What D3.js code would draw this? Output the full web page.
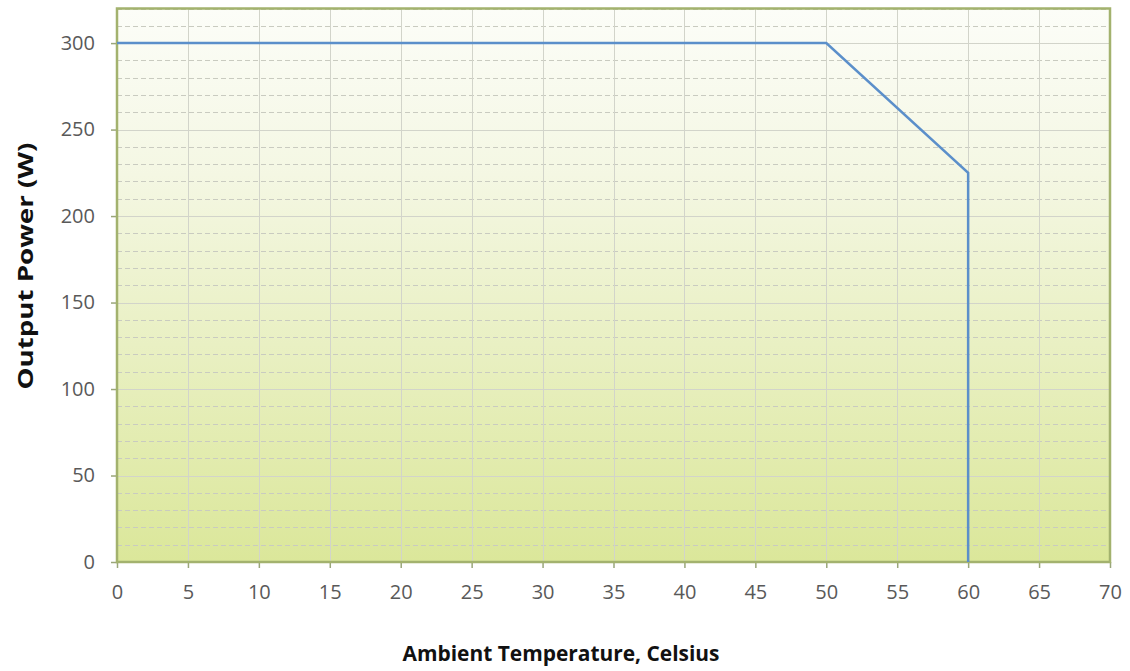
<!DOCTYPE html>
<html>
<head>
<meta charset="utf-8">
<script src="https://cdn.jsdelivr.net/npm/d3@7/dist/d3.min.js"></script>
<style>
  html, body { margin: 0; padding: 0; background: #ffffff; }
  svg { display: block; }
</style>
</head>
<body>
<svg id="chart" width="1130" height="671"></svg>
<script>
// Derating curve: output power vs. ambient temperature
const temperatures = [0, 50, 60, 60];
const powers = [300, 300, 225, 0];
const xTicks = [0, 5, 10, 15, 20, 25, 30, 35, 40, 45, 50, 55, 60, 65, 70];
const yTicks = [0, 50, 100, 150, 200, 250, 300];
const yMinorTicks = d3.range(0, 330, 10).filter(v => v % 50 !== 0);
const xTitle = "Ambient Temperature, Celsius";
const yTitle = "Output Power (W)";

const svg = d3.select("#chart");
const margin = { left: 117, right: 20, top: 8.5, bottom: 109 };
const W = 1130, H = 671;
const x = d3.scaleLinear().domain([0, 70]).range([margin.left, W - margin.right]);
const y = d3.scaleLinear().domain([0, 320]).range([H - margin.bottom, margin.top]);

// Plot background gradient
const defs = svg.append("defs");
const grad = defs.append("linearGradient")
  .attr("id", "bg").attr("x1", 0).attr("y1", 0).attr("x2", 0).attr("y2", 1);
grad.append("stop").attr("offset", "0%").attr("stop-color", "#fcfdf8");
grad.append("stop").attr("offset", "30%").attr("stop-color", "#f4f7e3");
grad.append("stop").attr("offset", "100%").attr("stop-color", "#dbe79a");

svg.append("rect")
  .attr("x", x(0)).attr("y", y(320))
  .attr("width", x(70) - x(0)).attr("height", y(0) - y(320))
  .attr("fill", "url(#bg)");

// Minor dashed horizontal gridlines
svg.append("g").selectAll("line").data(yMinorTicks).join("line")
  .attr("x1", x(0)).attr("x2", x(70))
  .attr("y1", d => Math.round(y(d)) + 0.5).attr("y2", d => Math.round(y(d)) + 0.5)
  .attr("stroke", "#c9cbc0").attr("stroke-width", 1)
  .attr("stroke-dasharray", "5,3");

// Major horizontal gridlines
svg.append("g").selectAll("line").data(yTicks.filter(d => d > 0)).join("line")
  .attr("x1", x(0)).attr("x2", x(70))
  .attr("y1", d => Math.round(y(d)) + 0.5).attr("y2", d => Math.round(y(d)) + 0.5)
  .attr("stroke", "#d2d4ca").attr("stroke-width", 1);

// Vertical gridlines
svg.append("g").selectAll("line").data(xTicks.filter(d => d > 0 && d < 70)).join("line")
  .attr("x1", d => Math.round(x(d)) + 0.5).attr("x2", d => Math.round(x(d)) + 0.5)
  .attr("y1", y(320)).attr("y2", y(0))
  .attr("stroke", "#d2d4ca").attr("stroke-width", 1);

// Axes
const tickFont = "'Open Sans', 'Noto Sans', sans-serif";
const xAxis = svg.append("g")
  .attr("transform", `translate(0,${y(0)})`)
  .call(d3.axisBottom(x).tickValues(xTicks).tickSize(6).tickPadding(17).tickFormat(d3.format("d")));
const yAxis = svg.append("g")
  .attr("transform", `translate(${x(0)},0)`)
  .call(d3.axisLeft(y).tickValues(yTicks).tickSize(6).tickPadding(16).tickFormat(d3.format("d")));
[xAxis, yAxis].forEach(g => {
  g.select(".domain").remove();
  g.selectAll(".tick line").attr("stroke", "#9aa67a").attr("stroke-width", 1.5);
  g.selectAll(".tick text")
    .attr("fill", "#595959")
    .style("font-family", tickFont)
    .style("font-size", "20px");
});

// Plot border
svg.append("rect")
  .attr("x", x(0)).attr("y", y(320))
  .attr("width", x(70) - x(0)).attr("height", y(0) - y(320))
  .attr("fill", "none").attr("stroke", "#a3b26e").attr("stroke-width", 2.5);

// Derating curve
const line = d3.line().x((d, i) => x(temperatures[i])).y((d, i) => y(powers[i]));
svg.append("path")
  .datum(powers)
  .attr("d", line)
  .attr("fill", "none")
  .attr("stroke", "#5b8fca")
  .attr("stroke-width", 2.5)
  .attr("stroke-linejoin", "miter");

// Axis titles
svg.append("text")
  .attr("x", 561).attr("y", 661)
  .attr("text-anchor", "middle")
  .attr("textLength", 317).attr("lengthAdjust", "spacingAndGlyphs")
  .style("font-family", tickFont)
  .style("font-size", "21px").style("font-weight", "bold")
  .attr("fill", "#111")
  .text(xTitle);

svg.append("text")
  .attr("transform", `translate(33,266) rotate(-90)`)
  .attr("text-anchor", "middle")
  .attr("textLength", 247).attr("lengthAdjust", "spacingAndGlyphs")
  .style("font-family", tickFont)
  .style("font-size", "22px").style("font-weight", "bold")
  .attr("fill", "#111")
  .text(yTitle);
</script>
</body>
</html>
